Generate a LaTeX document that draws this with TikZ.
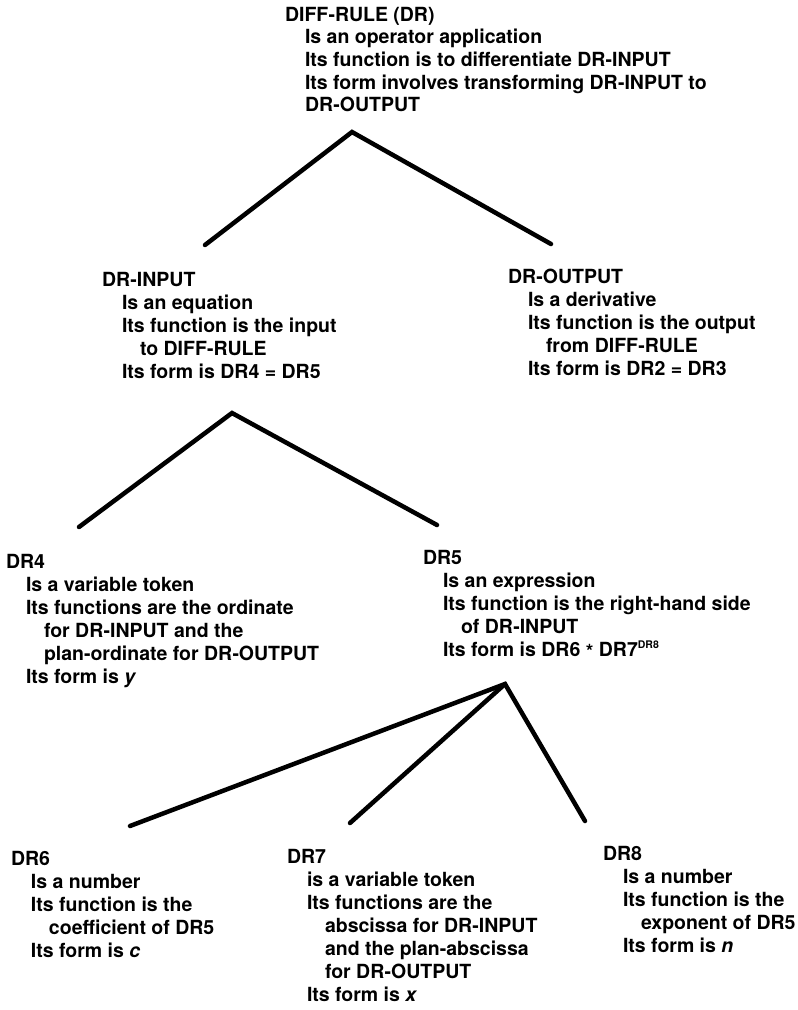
\documentclass[tikz,border=0pt]{standalone}
\usepackage{fontspec}
\setmainfont{TeX Gyre Heros}
\begin{document}
\newcommand{\ia}{\hspace*{20pt}}
\newcommand{\ib}{\hspace*{38pt}}
\newcommand{\blocktext}[2][23]{\parbox[t]{500pt}{\raggedright\bfseries\fontsize{19.5}{#1}\selectfont #2}}
\newcommand{\supsmall}[1]{\raisebox{8pt}{\fontsize{10.5}{10.5}\selectfont #1}}
\begin{tikzpicture}[x=1pt,y=-1pt,
  entry/.style={anchor=base west,inner sep=0pt,outer sep=0pt},
  branch/.style={line width=4.5pt,line cap=round,line join=miter}]
\useasboundingbox (0,0) rectangle (798,1010);

% concept entries
\node[entry] (dr) at (285,21) {\blocktext[22.7]{DIFF-RULE (DR)\\
\ia Is an operator application\\
\ia Its function is to differentiate DR-INPUT\\
\ia Its form involves transforming DR-INPUT to\\
\ia DR-OUTPUT}};

\node[entry] (drin) at (102,286) {\blocktext{DR-INPUT\\
\ia Is an equation\\
\ia Its function is the input\\
\ib to DIFF-RULE\\
\ia Its form is DR4 = DR5}};

\node[entry] (drout) at (508,283) {\blocktext{DR-OUTPUT\\
\ia Is a derivative\\
\ia Its function is the output\\
\ib from DIFF-RULE\\
\ia Its form is DR2 = DR3}};

\node[entry] (dr4) at (6,568) {\blocktext{DR4\\
\ia Is a variable token\\
\ia Its functions are the ordinate\\
\ib for DR-INPUT and the\\
\ib plan-ordinate for DR-OUTPUT\\
\ia Its form is \textit{y}}};

\node[entry] (dr5) at (423,564) {\blocktext{DR5\\
\ia Is an expression\\
\ia Its function is the right-hand side\\
\ib of DR-INPUT\\
\ia Its form is DR6 \raisebox{-2pt}{*} DR7\supsmall{DR8}}};

\node[entry] (dr6) at (11,865) {\blocktext{DR6\\
\ia Is a number\\
\ia Its function is the\\
\ib coefficient of DR5\\
\ia Its form is \textit{c}}};

\node[entry] (dr7) at (287,863) {\blocktext{DR7\\
\ia is a variable token\\
\ia Its functions are the\\
\ib abscissa for DR-INPUT\\
\ib and the plan-abscissa\\
\ib for DR-OUTPUT\\
\ia Its form is \textit{x}}};

\node[entry] (dr8) at (603,860) {\blocktext{DR8\\
\ia Is a number\\
\ia Its function is the\\
\ib exponent of DR5\\
\ia Its form is \textit{n}}};

% branch points of the tree
\coordinate (drTop) at (352,132);
\coordinate (drinTop) at (205,245);
\coordinate (droutTop) at (551,244);
\coordinate (inApex) at (232,413);
\coordinate (dr4Top) at (79,527);
\coordinate (dr5Top) at (437,525);
\coordinate (fiveApex) at (505,684);
\coordinate (dr6Top) at (130,826);
\coordinate (dr7Top) at (350,823);
\coordinate (dr8Top) at (585,821);

\draw[branch] (drinTop) -- (drTop) -- (droutTop);
\draw[branch] (dr4Top) -- (inApex) -- (dr5Top);
\draw[branch] (dr6Top) -- (fiveApex) -- (dr8Top);
\draw[branch] (dr7Top) -- (fiveApex);
\end{tikzpicture}
\end{document}
